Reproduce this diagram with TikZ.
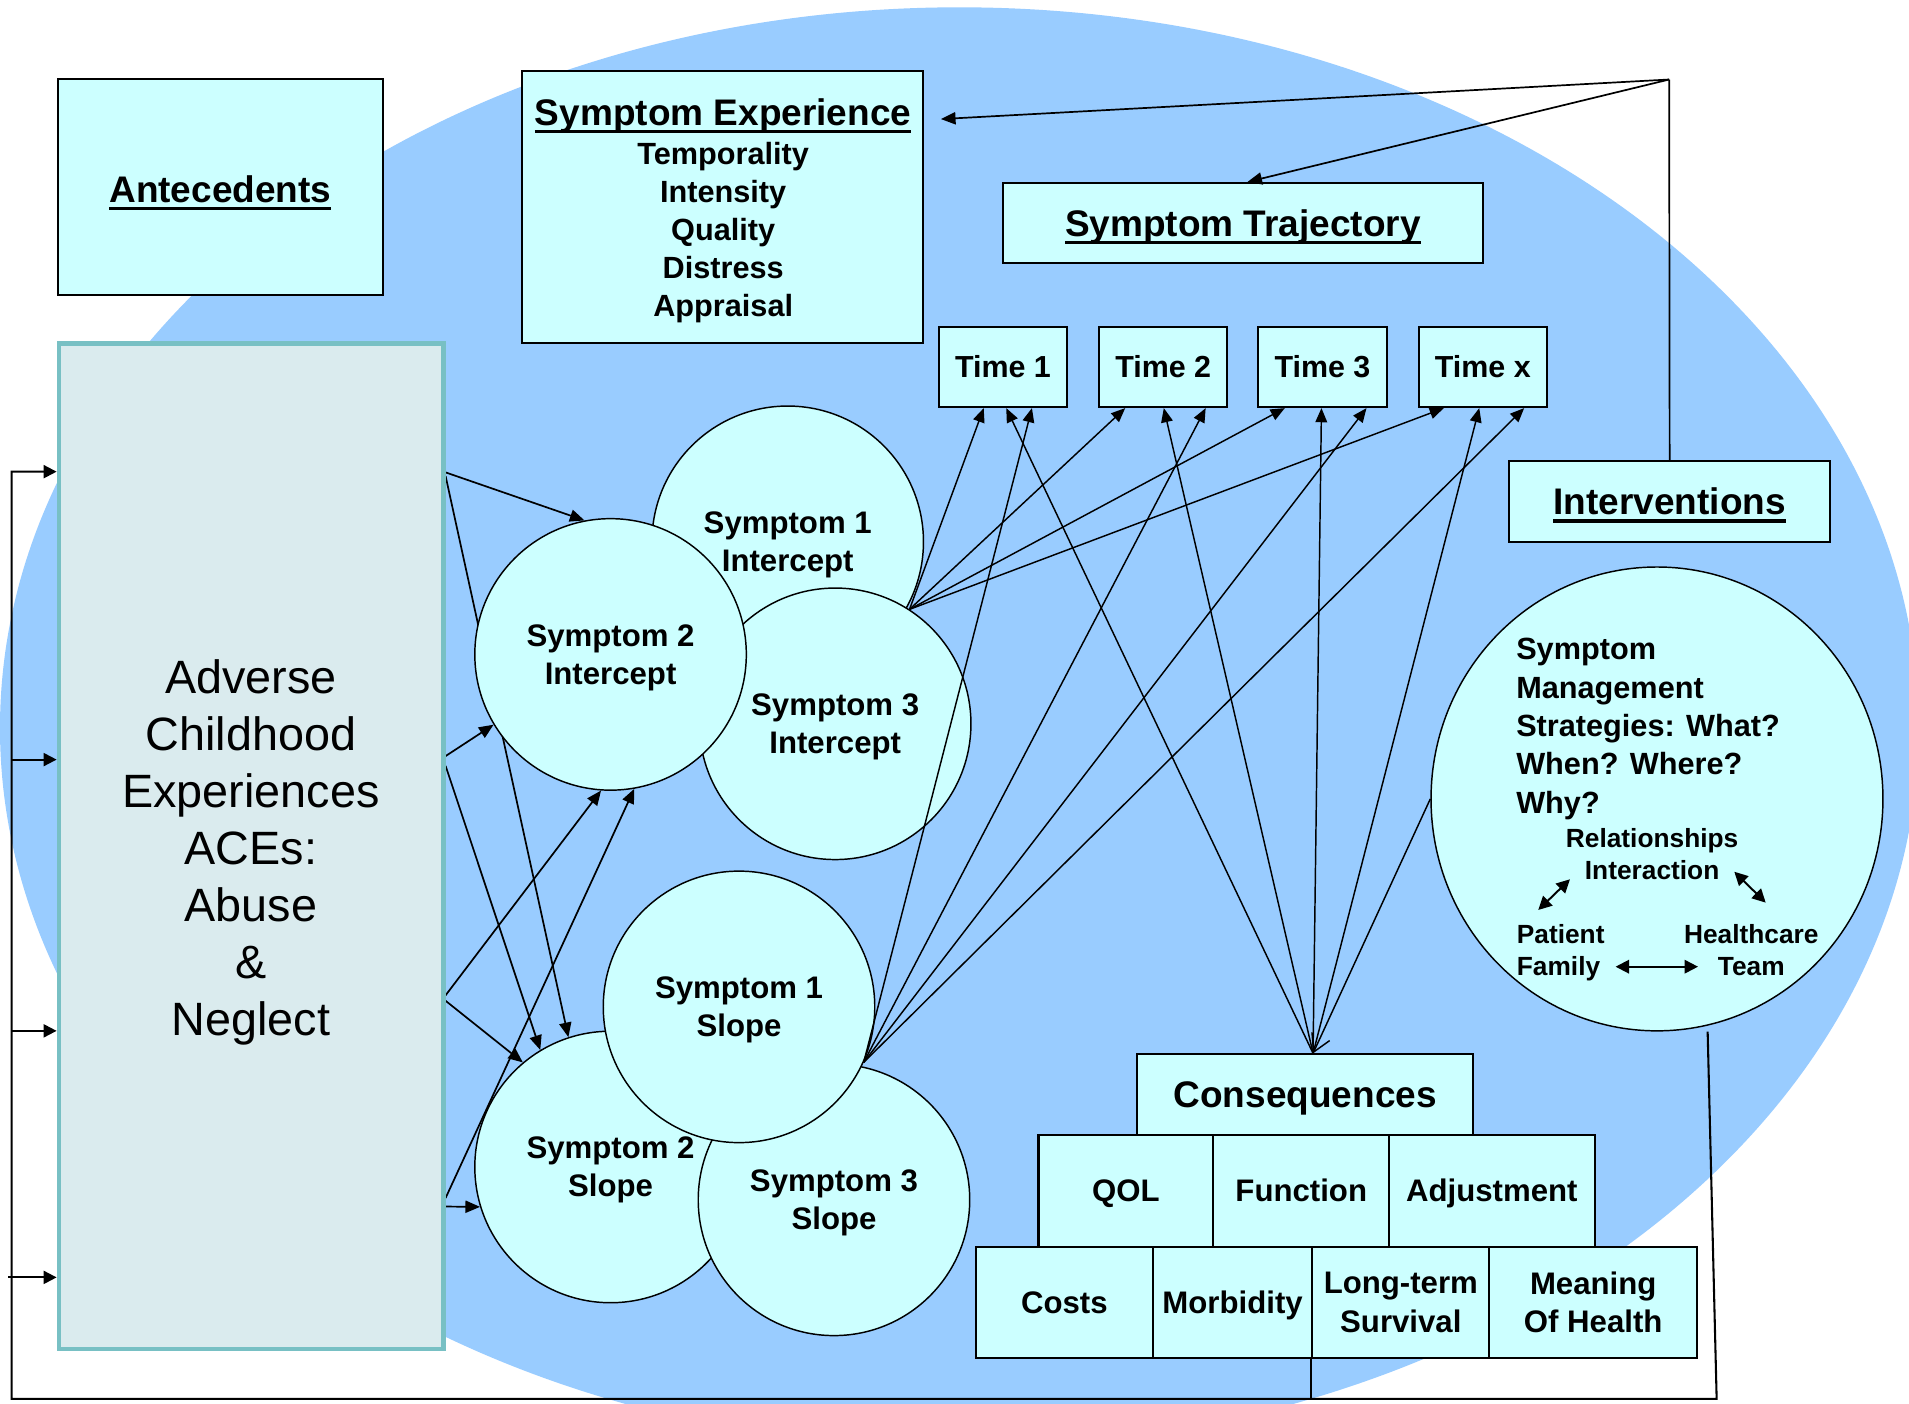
\documentclass[tikz,border=0pt]{standalone}
\usepackage{fontspec}
\setmainfont{Liberation Sans}
\usetikzlibrary{arrows.meta,calc,shapes.geometric}

\definecolor{sky}{HTML}{99CCFF}
\definecolor{pale}{HTML}{CCFFFF}
\definecolor{acefill}{HTML}{DAEBEE}
\definecolor{aceedge}{HTML}{78C0C4}

\pgfdeclarelayer{back}
\pgfsetlayers{back,main}

\newcommand\ftHead{\fontsize{15.2}{18}\selectfont\bfseries}
\newcommand\ftList{\fontsize{12.6}{15.6}\selectfont\bfseries}
\newcommand\ftTime{\fontsize{12.5}{15}\selectfont\bfseries}
\newcommand\ftCirc{\fontsize{12.8}{15.5}\selectfont\bfseries}
\newcommand\ftItem{\fontsize{12.8}{15.9}\selectfont\bfseries}
\newcommand\ftStrat{\fontsize{12.6}{15.75}\selectfont\bfseries}
\newcommand\ftRel{\fontsize{10.8}{13}\selectfont\bfseries}
\newcommand\ftAce{\fontsize{19.2}{23.4}\selectfont}
% heading text with a heavy underline
\newcommand\headul[1]{\setbox0=\hbox{#1}\rlap{\rule[-3.3pt]{\wd0}{1.4pt}}\box0}

\begin{document}
\begin{tikzpicture}[x=0.5pt,y=-0.5pt,
  pbox/.style={draw,line width=0.85pt,fill=pale,inner sep=0pt,align=center},
  capbox/.style={text height=#1,text depth=0pt},
  bubble/.style={circle,draw,line width=0.6pt,fill=pale,minimum size=111.5pt,inner sep=0pt,align=center,font=\ftCirc,text depth=-0.8pt},
  link/.style={line width=0.7pt,-{Triangle[length=6pt,width=5pt]}},
  tlink/.style={line width=0.6pt,-{Triangle[length=5.8pt,width=4.8pt]}},
  fbline/.style={line width=0.85pt},
  fbarrow/.style={line width=0.85pt,-{Triangle[length=5.3pt,width=5.3pt]}},
  twoway/.style={line width=0.8pt,{Triangle[length=5.5pt,width=5.5pt]}-{Triangle[length=5.5pt,width=5.5pt]}},
]
\useasboundingbox (0,0) rectangle (1568,1153);

% page and the large blue oval behind everything
\begin{pgfonlayer}{back}
  \fill[white] (0,0) rectangle (1568,1153);
  \begin{scope}
    \clip (0,0) rectangle (1568,1153);
    \fill[sky] (788,598) ellipse [x radius=394pt,y radius=296pt];
  \end{scope}
\end{pgfonlayer}

% upper boxes
\node[pbox,font=\ftHead,minimum width=133.25pt,minimum height=88.75pt,capbox=12.8pt] (ante) at (181,153.25) {\headul{Antecedents}};
\node[pbox,minimum width=164.55pt,minimum height=111.8pt] (symexp) at (593.45,169.8) {};
\node[font=\ftHead,anchor=base,inner sep=0pt] (setitle) at (594,103) {\headul{Symptom Experience}};
\node[font=\ftList,align=center,anchor=north,inner sep=0pt] (selist) at (594,116.5) {Temporality\\Intensity\\Quality\\Distress\\Appraisal};
\node[pbox,font=\ftHead,minimum width=197.1pt,minimum height=33pt,capbox=10.8pt] (traj) at (1020.9,183.3) {\headul{Symptom Trajectory}};
\foreach \nm/\xx/\lab in {t1/823.8/1, t2/955.4/2, t3/1086.2/3, tx/1217.9/x}
  \node[pbox,font=\ftTime,minimum width=52.75pt,minimum height=33pt,capbox=8.95pt] (\nm) at (\xx,301.35) {Time \lab};
\node[pbox,font=\ftHead,minimum width=131.6pt,minimum height=33pt,capbox=10.8pt] (interv) at (1371.4,411.8) {\headul{Interventions}};

% antecedent block
\node[draw=aceedge,line width=2pt,fill=acefill,minimum width=157.75pt,minimum height=413pt,inner sep=0pt] (ace) at (206.25,695) {};
\node[font=\ftAce,align=center,anchor=north,inner sep=0pt] (acetext) at (206,541.5) {Adverse\\Childhood\\Experiences\\ACEs:\\Abuse\\\&\\Neglect};

% intercept and slope bubbles (stacking order matters)
\node[bubble] (s1i) at (647,445) {Symptom 1\\Intercept};
\node[bubble] (s3i) at (686,594.5) {Symptom 3\\Intercept};
\node[bubble] (s2i) at (501.5,537.5) {Symptom 2\\Intercept};
\node[bubble] (s2s) at (501.5,958.5) {Symptom 2\\Slope};
\node[bubble] (s3s) at (685,985.5) {Symptom 3\\Slope};
\node[bubble] (s1s) at (607,827) {Symptom 1\\Slope};

% consequences pyramid
\node[pbox,font=\ftHead,minimum width=138pt,minimum height=33pt,capbox=10.8pt] (cons) at (1072,899) {Consequences};
\node[pbox,font=\ftItem,minimum width=71.8pt,minimum height=46pt,capbox=9.15pt] (qol) at (924.8,978) {QOL};
\node[pbox,font=\ftItem,minimum width=72.2pt,minimum height=46pt,capbox=9.15pt] (func) at (1068.8,978) {Function};
\node[pbox,font=\ftItem,minimum width=84.35pt,minimum height=46pt,capbox=9.15pt] (adj) at (1225.35,978) {Adjustment};
\node[pbox,font=\ftItem,minimum width=72.6pt,minimum height=45.75pt,capbox=9.15pt] (costs) at (874.2,1069.75) {Costs};
\node[pbox,font=\ftItem,minimum width=65.6pt,minimum height=45.75pt,capbox=9.15pt] (morb) at (1012.4,1069.75) {Morbidity};
\node[pbox,font=\ftItem,minimum width=72.6pt,minimum height=45.75pt] (lts) at (1150.6,1069.75) {Long-term\\Survival};
\node[pbox,font=\ftItem,minimum width=85.4pt,minimum height=45.75pt] (mean) at (1308.6,1069.75) {Meaning\\Of Health};

% symptom management oval
\node[ellipse,draw,line width=0.6pt,fill=pale,minimum width=185.6pt,minimum height=190.5pt,inner sep=0pt] (sm) at (1361,656.2) {};
\node[font=\ftStrat,align=left,anchor=north west,inner sep=0pt] (smtext) at (1245,524) {Symptom\\Management\\Strategies: What?\\When? Where?\\Why?};
\node[font=\ftRel,align=center,anchor=north,inner sep=0pt] (rel) at (1357,680.3) {Relationships\\Interaction};
\node[font=\ftRel,align=left,anchor=north west,inner sep=0pt] (pat) at (1245.5,759.3) {Patient\\Family};
\node[font=\ftRel,align=center,anchor=north,inner sep=0pt] (team) at (1438.5,759.3) {Healthcare\\Team};
\coordinate (rl1) at (1263.5,747.4); \coordinate (rl2) at (1289.5,722.2);
\coordinate (rr1) at (1424.5,716);   \coordinate (rr2) at (1450.3,741.4);
\coordinate (rh1) at (1327,794);     \coordinate (rh2) at (1394.7,794);
\draw[twoway] (rl1) -- (rl2);
\draw[twoway] (rr1) -- (rr2);
\draw[twoway] (rh1) -- (rh2);

% paths from the antecedent block, hidden behind the bubbles
\begin{pgfonlayer}{back}
  \draw[link] ([yshift=153.5pt]ace.east) -- (s2i.101);
  \draw[link] ([yshift=152pt]ace.east) -- (s2s.108);
  \draw[link] ([yshift=37pt]ace.east) -- (s2i.211);
  \draw[link] ([yshift=33pt]ace.east) -- (s2s.121);
  \draw[link] ([yshift=-61.25pt]ace.east) -- (s2i.266);
  \draw[link] ([yshift=-63.5pt]ace.east) -- (s2s.130);
  \draw[link] ([yshift=-144.5pt]ace.east) -- (s2i.280);
  \draw[link] ([yshift=-148pt]ace.east) -- (s2s.197);
\end{pgfonlayer}

% trajectory links to the time points
\coordinate (p1) at (s3i.57);
\coordinate (p2) at (s1s.-24);
\coordinate (p3) at ([xshift=3.25pt]cons.north);
\draw[tlink] (p1) -- ([xshift=-7.9pt]t1.south);
\draw[tlink] (p1) -- ([xshift=-15.6pt]t2.south);
\draw[tlink] (p1) -- ([xshift=-15.45pt]t3.south);
\draw[tlink] (p1) -- ([xshift=-16pt]tx.south);
\draw[tlink] (p3) -- ([xshift=1.35pt]t1.south);
\draw[tlink] (p3) -- ([xshift=0.25pt]t2.south);
\draw[tlink] (p3) -- ([xshift=-0.4pt]t3.south);
\draw[tlink] (p3) -- ([xshift=-1.45pt]tx.south);
\draw[tlink] (p2) -- ([xshift=11.9pt]t1.south);
\draw[tlink] (p2) -- ([xshift=17.45pt]t2.south);
\draw[tlink] (p2) -- ([xshift=18.1pt]t3.south);
\draw[tlink] (p2) -- ([xshift=17pt]tx.south);
\draw[line width=0.6pt,-{Straight Barb[length=7pt,width=8pt]}] (sm.west) -- (p3);

% interventions feed the experience and the trajectory
\coordinate (icorner) at (1371,65.3);
\draw[line width=0.7pt] (interv.north) -- (icorner);
\draw[link] (icorner) -- ([xshift=7pt,yshift=36pt]symexp.east);
\draw[link] (icorner) -- ([xshift=1.85pt]traj.north);

% feedback loop back to the antecedents
\coordinate (fbs) at ([xshift=20.8pt]sm.south);
\coordinate (fbr) at (1410,1149);
\coordinate (fbl) at (9.6,1149);
\coordinate (fbt) at (9.6,387.4);
\coordinate (fb2) at (9.6,623.9);
\coordinate (fb3) at (9.6,846.7);
\coordinate (fb4) at (6.8,1049.2);
\draw[fbarrow] (fbs) -- (fbr) -- (fbl) -- (fbt) -- (fbt -| ace.west);
\draw[fbarrow] (fb2) -- (fb2 -| ace.west);
\draw[fbarrow] (fb3) -- (fb3 -| ace.west);
\draw[fbarrow] (fb4) -- (fb4 -| ace.west);
\draw[fbline] (lts.south west) -- (lts.south west |- fbl);
\end{tikzpicture}
\end{document}
